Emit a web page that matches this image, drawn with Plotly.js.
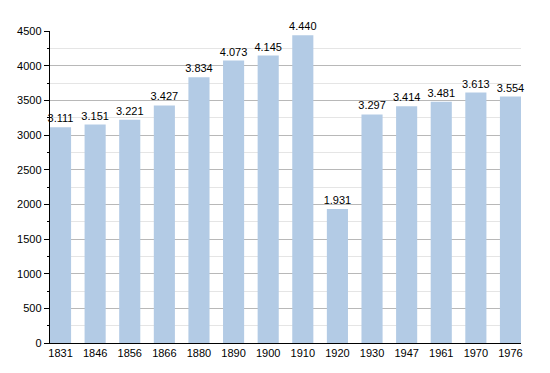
<!DOCTYPE html>
<html><head><meta charset="utf-8">
<script src="https://cdn.plot.ly/plotly-3.0.1.min.js"></script>
<style>body{margin:0;background:#fff}#c{width:550px;height:373px}</style>
</head><body><div id="c"></div>
<script>
const years = ["1831","1846","1856","1866","1880","1890","1900","1910","1920","1930","1947","1961","1970","1976"];
const population = [3111,3151,3221,3427,3834,4073,4145,4440,1931,3297,3414,3481,3613,3554];
const yTicks = [0,500,1000,1500,2000,2500,3000,3500,4000,4500];

Plotly.newPlot('c', [{
  type: 'bar',
  x: years,
  y: population,
  marker: {color: '#b3cbe5'},
  texttemplate: '%{y:,}',
  textposition: 'outside',
  constraintext: 'none',
  cliponaxis: false,
  textfont: {family: 'Liberation Sans, Arial, sans-serif', size: 11, color: '#000'},
  hoverinfo: 'none'
}], {
  width: 550, height: 373,
  margin: {l: 50, r: 29, t: 31, b: 30},
  paper_bgcolor: '#fff', plot_bgcolor: '#fff',
  separators: ',.',
  bargap: 0.39,
  showlegend: false,
  font: {family: 'Liberation Sans, Arial, sans-serif', size: 11, color: '#000'},
  xaxis: {
    type: 'category',
    range: [-0.304, 13.304],
    showline: true, linecolor: '#000', linewidth: 1.2,
    showgrid: false, ticks: '', ticklen: 0,
    tickfont: {size: 11}
  },
  yaxis: {
    range: [0, 4500],
    tickvals: yTicks,
    ticktext: yTicks.map(String),
    showline: true, linecolor: '#000', linewidth: 1.2,
    ticks: 'outside', ticklen: 5, tickcolor: '#000', tickwidth: 1,
    showgrid: true, gridcolor: '#b8b8b8', gridwidth: 1,
    zeroline: false,
    minor: {dtick: 250, tick0: 0, ticks: 'outside', ticklen: 2, tickcolor: '#000', showgrid: true, gridcolor: '#e5e5e5', gridwidth: 1},
    tickfont: {size: 11}
  }
}, {displayModeBar: false, staticPlot: true});
</script></body></html>
